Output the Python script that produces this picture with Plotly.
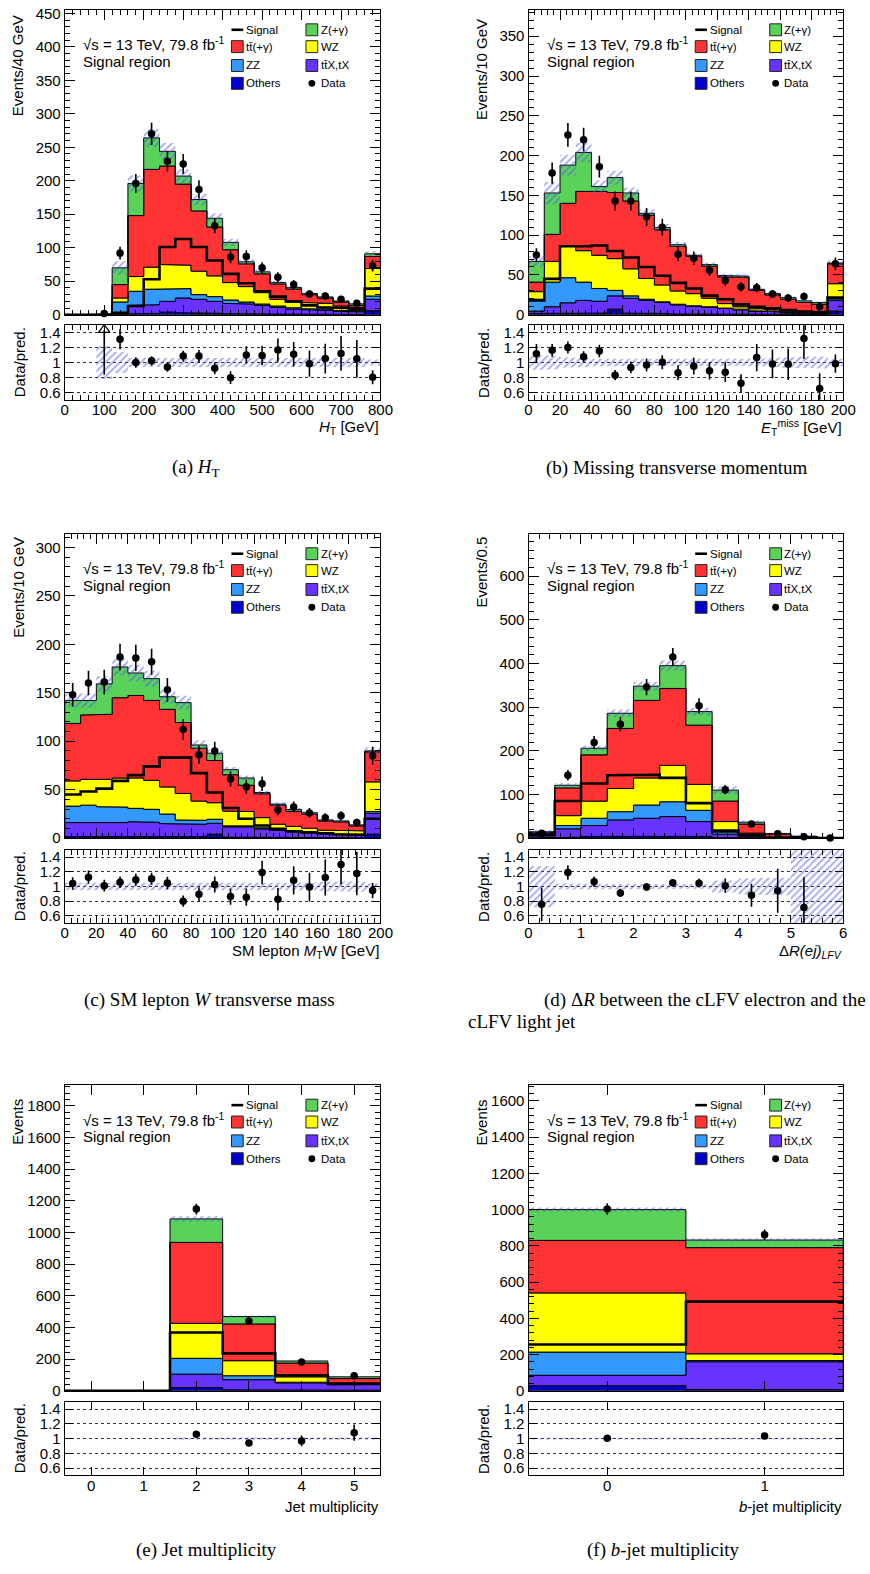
import numpy as np
import plotly.graph_objects as go

W, H = 870, 1574
SANS = "Liberation Sans, Arial, sans-serif"
SERIF = "Liberation Serif, Times New Roman, serif"
nan = float("nan")

# Stack colours, bottom -> top
C_OTHERS = "#0000cc"
C_TTX = "#6633ff"
C_ZZ = "#3399ff"
C_WZ = "#ffff00"
C_TT = "#ff3333"
C_Z = "#5ad25a"
C_HATCH = "#5050f0"
STACK_COLORS = [C_OTHERS, C_TTX, C_ZZ, C_WZ, C_TT, C_Z]

# ---------------- (a) H_T, 40 GeV bins (last bin includes overflow)
ht_edges = np.arange(0, 801, 40)
ht_others = [0, 0, 0, 1, 2, 2, 4, 3, 2, 2, 1.5, 1, 1, 1, 0.8, 0.6, 0.5, 0.5, 0.4, 6]
ht_ttx = [0, 0, 0.1, 2, 12, 13, 16, 22, 21, 18, 15.5, 15, 13, 10, 7.6, 6.9, 5.9, 4.5, 4.0, 17]
ht_zz = [0, 0, 0.2, 16, 21, 23, 18, 14, 7, 7, 5, 3, 2, 2, 2, 1.5, 2, 1.4, 1.5, 5]
ht_wz = [0, 0, 0.1, 6, 22, 33, 37, 35, 35, 31, 26, 23, 17, 10, 8.6, 9, 8.6, 6.6, 5.1, 41]
ht_tt = [0, 0, 0.2, 20, 91, 146, 147, 121, 90, 73, 49, 34, 28, 23, 19.5, 12, 8, 6, 3, 18]
ht_z = [0, 0, 0.1, 25, 48, 47, 22, 12, 17, 13, 11, 3, 3, 2, 2, 1.5, 1.6, 1.5, 2.2, 4]
ht_signal = [0, 0, 0.3, 3, 13, 53, 101, 113, 101, 81, 61, 47, 35, 27, 20, 14, 11, 10, 8.4, 39]
ht_data = [nan, nan, 2, 92, 196, 270, 229, 225, 187, 133, 86, 87, 70, 56, 45, 31, 28, 23, 17, 73]
ht_unc = [0, 0, 0.22, 0.14, 0.06, 0.05, 0.05, 0.05, 0.05, 0.05, 0.05, 0.05, 0.05, 0.05, 0.05,
          0.05, 0.05, 0.06, 0.06, 0.04]

# ---------------- (b) missing transverse momentum, 10 GeV bins
met_edges = np.arange(0, 201, 10)
met_others = [1.5, 1.5, 2, 2, 2, 7, 2, 1.5, 1.5, 1, 1, 1, 0.8, 0.6, 0.5, 0.4, 0.3, 0.3, 0.3, 4.5]
met_ttx = [3, 8.5, 13, 16, 15, 16.7, 18.7, 16.7, 13.9, 11.4, 9.8, 8.5, 7.1, 5.6, 4.1, 3.3, 2.2, 1.7, 1.3, 13.5]
met_zz = [15, 31, 31.5, 23, 16, 6.9, 3, 1.3, 0.8, 0.8, 0.4, 0.5, 0.4, 0.8, 0.4, 0.4, 0.4, 0.5, 0.4, 2]
met_wz = [9.5, 26, 39.5, 39.5, 41.7, 39.9, 34, 26.1, 21.2, 16.7, 15.3, 10.7, 5.7, 3, 2.5, 2.1, 1.7, 1.5, 1.7, 19]
met_tt = [12, 34, 54, 74.5, 80.3, 83.1, 85.3, 79.4, 69.3, 56.1, 46.9, 40.3, 33.7, 37, 23.1, 18.8, 14.9, 11.4, 9.5, 25]
met_z = [26, 52, 48, 49, 6, 18.7, 10, 2.4, 2.9, 2, 1.3, 2, 1.7, 1.5, 1.3, 1.5, 2, 2, 2.2, 1]
met_signal = [18, 45, 86, 86, 87, 80, 72, 60, 49, 40, 33, 24, 19.5, 13, 10, 8, 6, 4, 3, 21.5]
met_data = [75, 178, 226, 220, 186, 143, 143, 123, 110, 76, 71, 56, 43, 35, 34, 26, 21, 23, 10, 64]
met_unc = [0.1, 0.09, 0.07, 0.06, 0.05, 0.05, 0.045, 0.04, 0.04, 0.04, 0.04, 0.04, 0.04, 0.045,
           0.05, 0.06, 0.07, 0.08, 0.08, 0.05]

# ---------------- (c) SM lepton M_T(W), 10 GeV bins
mtw_edges = np.arange(0, 201, 10)
mtw_others = [1.5, 1.5, 1.5, 1.5, 1.5, 1.5, 1.5, 1.5, 1.5, 4, 1, 1, 1, 0.8, 0.6, 0.5, 0.4, 0.4, 0.3, 4]
mtw_ttx = [14.5, 14.8, 14.5, 14.5, 15.5, 14.8, 13.5, 12.8, 12.8, 11.3, 10.6, 10.6, 8.5, 7, 5.9, 4.9, 4, 3.3, 2.7, 21.5]
mtw_zz = [17, 17.7, 16.4, 16, 13.7, 13.4, 9.8, 4.4, 4.1, 4.1, 1, 1, 1.1, 0.4, 0.3, 0.4, 0.4, 0.4, 0.4, 1.8]
mtw_wz = [26, 26.6, 28.2, 30, 31.3, 29.9, 28, 27.3, 19.8, 17.1, 15.3, 14.7, 10.5, 6.1, 5.2, 4.4, 3.4, 3.4, 4.1, 30.7]
mtw_tt = [59.3, 66.5, 67.2, 82.9, 85.2, 82.5, 80.1, 73.3, 54.5, 43.6, 37.5, 27.2, 24.6, 19.7, 15.6, 14.6, 9.5, 9.2, 5.1, 31]
mtw_z = [23.8, 14.9, 31.4, 31.7, 23.2, 22.5, 13, 20.5, 3.4, 7.5, 5.2, 7.5, 1.3, 1.1, 1.9, 1.4, 1, 1, 1, 1]
mtw_signal = [45, 48, 51, 59, 65, 74, 83, 83, 67, 47, 31, 20, 13, 9.5, 7, 6, 5, 4, 3.4, 20]
mtw_data = [148, 160, 161, 187, 186, 182, 153, 112, 86, 90, 61, 53, 56, 29, 32, 26, 21, 23, 16, 85]
mtw_unc = [0.05, 0.05, 0.05, 0.05, 0.05, 0.05, 0.05, 0.05, 0.05, 0.04, 0.04, 0.04, 0.045, 0.05,
           0.05, 0.05, 0.06, 0.07, 0.07, 0.04]

# ---------------- (d) DeltaR(e, j) of the cLFV pair, 0.5 bins
dr_edges = np.arange(0, 6.01, 0.5)
dr_others = [0.5, 2, 3.8, 3.8, 4, 4.5, 3.8, 1, 0.3, 0.1, 0, 0]
dr_ttx = [4.5, 19.2, 24.9, 37.8, 41.4, 44.7, 34, 8, 4.2, 0.9, 0.4, 0.1]
dr_zz = [2, 7.5, 16.7, 18.9, 30.3, 34, 25.8, 4.6, 1.5, 0.5, 0.2, 0.1]
dr_wz = [2, 22.7, 39.3, 53, 62, 83.3, 59.4, 24.2, 5.3, 0.5, 0.2, 0.1]
dr_tt = [3.5, 63.6, 106, 137.7, 177.8, 176.3, 135.8, 47, 20.7, 7, 2.8, 0.7]
dr_z = [2, 6, 15.1, 34.8, 32.5, 52.2, 31, 24.9, 4.3, 1.6, 0.6, 0.2]
dr_signal = [8, 85, 125, 144, 145, 138, 80, 17, 7.6, 2, 0.8, 0.2]
dr_data = [11, 144, 219, 261, 346, 415, 303, 111, 32, 10, 3, 0]
dr_unc = [0.28, 0.04, 0.03, 0.03, 0.03, 0.03, 0.03, 0.08, 0.11, 0.12, 0.6, 0.6]

# ---------------- (e) jet multiplicity
njet_cats = [0, 1, 2, 3, 4, 5]
njet_others = [0, 0, 20, 6, 3, 3]
njet_ttx = [0, 0, 85, 64, 47, 35]
njet_zz = [0, 0, 100, 25, 4, 2]
njet_wz = [0, 0, 221, 95, 34, 7]
njet_tt = [0, 0, 511.5, 232, 87, 30]
njet_z = [0, 0, 148.5, 47, 13, 11]
njet_signal = [0, 0, 368, 236, 98, 45]
njet_data = [nan, nan, 1148, 441, 182, 95]
njet_unc = [0, 0, 0.015, 0.015, 0.015, 0.015]

# ---------------- (f) b-jet multiplicity
nb_cats = [0, 1]
nb_others = [27.4, 6]
nb_ttx = [58.1, 154]
nb_zz = [128, 7]
nb_wz = [326.5, 37]
nb_tt = [290, 586]
nb_z = [170, 42]
nb_signal = [255, 492]
nb_data = [1003, 861]
nb_unc = [0.012, 0.012]


def cat_edges(cats):
    c = np.asarray(cats, float)
    return np.append(c - 0.5, c[-1] + 0.5)


COLS = [(62, 384), (535, 856)]
ROWS = [(5, 312.3, 323, 398), (533.3, 840, 851.7, 926), (1089.3, 1397.3, 1408.3, 1482.7)]
XTITLE_Y = [426, 954, 1514]

panels = [
    dict(edges=ht_edges, stack=[ht_others, ht_ttx, ht_zz, ht_wz, ht_tt, ht_z], signal=ht_signal,
         data=ht_data, unc=ht_unc, xr=[0, 800], yr=[0, 455], xdt=100, xminor=20, ydt=50, yminor=10,
         xticks=None, ytitle="Events/40 GeV", ytop=8, xtitle="<i>H</i><sub>T</sub> [GeV]", col=0, row=0),
    dict(edges=met_edges, stack=[met_others, met_ttx, met_zz, met_wz, met_tt, met_z], signal=met_signal,
         data=met_data, unc=met_unc, xr=[0, 200], yr=[0, 383], xdt=20, xminor=4, ydt=50, yminor=10,
         xticks=None, ytitle="Events/10 GeV", ytop=12,
         xtitle="<i>E</i><sub>T</sub><sup>miss</sup> [GeV]", col=1, row=0),
    dict(edges=mtw_edges, stack=[mtw_others, mtw_ttx, mtw_zz, mtw_wz, mtw_tt, mtw_z], signal=mtw_signal,
         data=mtw_data, unc=mtw_unc, xr=[0, 200], yr=[0, 314], xdt=20, xminor=4, ydt=50, yminor=10,
         xticks=None, ytitle="Events/10 GeV", ytop=534,
         xtitle="SM lepton <i>M</i><sub>T</sub>W [GeV]", col=0, row=1),
    dict(edges=dr_edges, stack=[dr_others, dr_ttx, dr_zz, dr_wz, dr_tt, dr_z], signal=dr_signal,
         data=dr_data, unc=dr_unc, xr=[0, 6], yr=[0, 697], xdt=1, xminor=0.2, ydt=100, yminor=20,
         xticks=None, ytitle="Events/0.5", ytop=534,
         xtitle="Δ<i>R(ej)</i><sub><i>LFV</i></sub>", col=1, row=1),
    dict(edges=cat_edges(njet_cats), stack=[njet_others, njet_ttx, njet_zz, njet_wz, njet_tt, njet_z],
         signal=njet_signal, data=njet_data, unc=njet_unc, xr=[-0.5, 5.5], yr=[0, 1930], xdt=1,
         xminor=None, ydt=200, yminor=40, xticks=njet_cats, ytitle="Events", ytop=1101,
         xtitle="Jet multiplicity", col=0, row=2),
    dict(edges=cat_edges(nb_cats), stack=[nb_others, nb_ttx, nb_zz, nb_wz, nb_tt, nb_z],
         signal=nb_signal, data=nb_data, unc=nb_unc, xr=[-0.5, 1.5], yr=[0, 1686], xdt=1,
         xminor=None, ydt=200, yminor=40, xticks=nb_cats, ytitle="Events", ytop=1101,
         xtitle="<i>b</i>-jet multiplicity", col=1, row=2),
]

captions = [
    dict(text="(a) <i>H</i><sub>T</sub>", x=196, y=467, anchor="center"),
    dict(text="(b) Missing transverse momentum", x=686, y=467, anchor="center"),
    dict(text="(c) SM lepton <i>W</i> transverse mass", x=210, y=1003, anchor="center"),
    dict(text="(d) Δ<i>R</i> between the cLFV electron and the", x=549, y=1003, anchor="left"),
    dict(text="cLFV light jet", x=471, y=1025, anchor="left"),
    dict(text="(e) Jet multiplicity", x=207, y=1558, anchor="center"),
    dict(text="(f) <i>b</i>-jet multiplicity", x=672, y=1558, anchor="center"),
]


def px(x):
    return x / W


def py(y):
    return 1 - y / H


def ax_name(i, letter):
    return letter if i == 1 else f"{letter}{i}"


def ax_key(i, letter):
    return f"{letter}axis" if i == 1 else f"{letter}axis{i}"


def step_xy(edges, vals):
    xs, ys = [], []
    for i, v in enumerate(vals):
        xs += [float(edges[i]), float(edges[i + 1])]
        ys += [float(v), float(v)]
    return xs, ys


def band_polygon(edges, lo, hi):
    xu, yu = step_xy(edges, hi)
    xl, yl = step_xy(edges, lo)
    return xu + xl[::-1] + [xu[0]], yu + yl[::-1] + [yu[0]]


HATCH = dict(shape="/", fgcolor=C_HATCH, bgcolor="rgba(0,0,0,0)", size=5, solidity=0.35)
TICKFONT = dict(family=SANS, size=15, color="black")

fig = go.Figure()
layout = dict(width=W, height=H, margin=dict(l=0, r=0, t=0, b=0), paper_bgcolor="white",
              plot_bgcolor="white", showlegend=False)
shapes, annotations = [], []

for k, p in enumerate(panels):
    m, r = 2 * k + 1, 2 * k + 2
    L, R = COLS[p["col"]]
    T, B, RT, RB = ROWS[p["row"]]
    edges = np.asarray(p["edges"], float)
    centers = 0.5 * (edges[:-1] + edges[1:])
    xm, ym, xq, yq = ax_name(m, "x"), ax_name(m, "y"), ax_name(r, "x"), ax_name(r, "y")

    # stacked backgrounds
    cum = np.cumsum(np.array([np.asarray(s, float) for s in p["stack"]]), axis=0)
    lower = np.zeros(len(centers))
    for top, color in zip(cum, STACK_COLORS):
        xs, ys = band_polygon(edges, lower, top)
        fig.add_trace(go.Scatter(x=xs, y=ys, xaxis=xm, yaxis=ym, mode="lines", fill="toself",
                                 fillcolor=color, line=dict(color="black", width=1), hoverinfo="skip"))
        lower = top
    total = cum[-1]
    unc = np.asarray(p["unc"], float)

    # uncertainty band on the total
    xs, ys = band_polygon(edges, total * (1 - unc), total * (1 + unc))
    fig.add_trace(go.Scatter(x=xs, y=ys, xaxis=xm, yaxis=ym, mode="lines", fill="toself",
                             fillcolor="rgba(0,0,0,0)", fillpattern=HATCH, line=dict(width=0),
                             hoverinfo="skip"))

    # signal overlay
    xs, ys = step_xy(edges, p["signal"])
    fig.add_trace(go.Scatter(x=xs, y=ys, xaxis=xm, yaxis=ym, mode="lines",
                             line=dict(color="black", width=2.6), hoverinfo="skip"))

    # data
    data = np.asarray(p["data"], float)
    ok = np.isfinite(data)
    fig.add_trace(go.Scatter(x=centers[ok], y=data[ok], xaxis=xm, yaxis=ym, mode="markers",
                             marker=dict(color="black", size=7.5),
                             error_y=dict(type="data", array=np.sqrt(data[ok]), color="black",
                                          thickness=1.6, width=0),
                             cliponaxis=False, hoverinfo="skip"))

    # ratio panel: band
    has = np.where(total > 0)[0]
    i0, i1 = has[0], has[-1]
    xs, ys = band_polygon(edges[i0:i1 + 2], 1 - unc[i0:i1 + 1], 1 + unc[i0:i1 + 1])
    fig.add_trace(go.Scatter(x=xs, y=ys, xaxis=xq, yaxis=yq, mode="lines", fill="toself",
                             fillcolor="rgba(0,0,0,0)", fillpattern=HATCH, line=dict(width=0),
                             hoverinfo="skip"))

    # ratio panel: data / prediction
    with np.errstate(divide="ignore", invalid="ignore"):
        ratio = np.where(total > 0, data / total, nan)
        rerr = np.where(total > 0, np.sqrt(data) / total, nan)
    good = np.isfinite(ratio) & (data > 0) & (ratio <= 1.5)
    fig.add_trace(go.Scatter(x=centers[good], y=ratio[good], xaxis=xq, yaxis=yq, mode="markers",
                             marker=dict(color="black", size=7.5),
                             error_y=dict(type="data", array=rerr[good], color="black",
                                          thickness=1.6, width=0),
                             hoverinfo="skip"))
    high = np.isfinite(ratio) & (ratio > 1.5)
    for c, rv, re in zip(centers[high], ratio[high], rerr[high]):
        fig.add_trace(go.Scatter(x=[c, c], y=[max(rv - re, 0.5), 1.44], xaxis=xq, yaxis=yq,
                                 mode="lines", line=dict(color="black", width=1.6), hoverinfo="skip"))
        fig.add_trace(go.Scatter(x=[c], y=[1.44], xaxis=xq, yaxis=yq, mode="markers",
                                 marker=dict(symbol="triangle-up-open", size=10, color="black",
                                             line=dict(width=1.2)),
                                 cliponaxis=False, hoverinfo="skip"))

    # axes
    frame = dict(showline=True, linecolor="black", linewidth=1.2, mirror="allticks", ticks="inside",
                 tickcolor="black", tickwidth=1, showgrid=False, zeroline=False, fixedrange=True)
    if p["xticks"] is not None:
        xt = dict(tickmode="array", tickvals=p["xticks"])
    else:
        xt = dict(tickmode="linear", tick0=p["xr"][0], dtick=p["xdt"])
    xminor = dict(ticks="inside", ticklen=5, tickcolor="black", dtick=p["xminor"], tick0=0) \
        if p["xminor"] else dict(ticks="")
    layout[ax_key(m, "x")] = dict(domain=[px(L), px(R)], range=p["xr"], anchor=ym,
                                  showticklabels=False, ticklen=10, minor=xminor, **xt, **frame)
    layout[ax_key(m, "y")] = dict(domain=[py(B), py(T)], range=p["yr"], anchor=xm, tickmode="linear",
                                  tick0=0, dtick=p["ydt"], ticklen=10, tickfont=TICKFONT,
                                  minor=dict(ticks="inside", ticklen=5, tickcolor="black",
                                             dtick=p["yminor"], tick0=0), **frame)
    layout[ax_key(r, "x")] = dict(domain=[px(L), px(R)], range=p["xr"], anchor=yq,
                                  showticklabels=True, tickfont=TICKFONT, ticklen=8, minor=xminor,
                                  ticklabelstandoff=-4, **xt, **frame)
    rframe = dict(frame)
    rframe["showgrid"] = True
    layout[ax_key(r, "y")] = dict(domain=[py(RB), py(RT)], range=[0.5, 1.5], anchor=xq,
                                  tickmode="array", tickvals=[0.6, 0.8, 1.0, 1.2, 1.4],
                                  ticktext=["0.6", "0.8", "1", "1.2", "1.4"], ticklen=8,
                                  tickfont=TICKFONT, gridcolor="#333333", griddash="dot", gridwidth=1,
                                  **rframe)

    # axis titles
    annotations.append(dict(text=p["ytitle"], x=px(L - 48), y=py(p["ytop"]), xref="paper", yref="paper",
                            xanchor="center", yanchor="top", textangle=-90, showarrow=False,
                            font=dict(family=SANS, size=15, color="black")))
    annotations.append(dict(text="Data/pred.", x=px(L - 46), y=py((RT + RB) / 2), xref="paper",
                            yref="paper", xanchor="center", yanchor="middle", textangle=-90,
                            showarrow=False, font=dict(family=SANS, size=15, color="black")))
    annotations.append(dict(text=p["xtitle"], x=px(R + 1), y=py(XTITLE_Y[p["row"]]), xref="paper",
                            yref="paper", xanchor="right", yanchor="middle", showarrow=False,
                            font=dict(family=SANS, size=15, color="black")))

    # in-plot labels
    annotations.append(dict(text="√s = 13 TeV, 79.8 fb<sup>-1</sup>", x=px(L + 17), y=py(T + 34),
                            xref="paper", yref="paper", xanchor="left", yanchor="middle",
                            showarrow=False, font=dict(family=SANS, size=15, color="black")))
    annotations.append(dict(text="Signal region", x=px(L + 17), y=py(T + 52), xref="paper",
                            yref="paper", xanchor="left", yanchor="middle", showarrow=False,
                            font=dict(family=SANS, size=15, color="black")))

    # legend
    row_off = [20, 37, 56, 74]
    left_items = [("Signal", None), ("tt\u0304(+γ)", C_TT), ("ZZ", C_ZZ), ("Others", C_OTHERS)]
    right_items = [("Z(+γ)", C_Z), ("WZ", C_WZ), ("tt\u0304X,tX", C_TTX), ("Data", None)]
    for j, (label, color) in enumerate(left_items):
        yc = T + row_off[j]
        if color is None:
            shapes.append(dict(type="line", xref="paper", yref="paper", x0=px(L + 170), x1=px(L + 182),
                               y0=py(yc), y1=py(yc), line=dict(color="black", width=2.6)))
        else:
            shapes.append(dict(type="rect", xref="paper", yref="paper", x0=px(L + 170), x1=px(L + 182),
                               y0=py(yc + 6), y1=py(yc - 6), fillcolor=color,
                               line=dict(color="#222222", width=1)))
        annotations.append(dict(text=label, x=px(L + 183), y=py(yc), xref="paper", yref="paper",
                                xanchor="left", yanchor="middle", showarrow=False,
                                font=dict(family=SANS, size=11.5, color="black")))
    for j, (label, color) in enumerate(right_items):
        yc = T + row_off[j]
        if color is None:
            shapes.append(dict(type="circle", xref="paper", yref="paper", x0=px(L + 248.5),
                               x1=px(L + 255.5), y0=py(yc + 3.5), y1=py(yc - 3.5),
                               fillcolor="black", line=dict(color="black", width=0)))
        else:
            shapes.append(dict(type="rect", xref="paper", yref="paper", x0=px(L + 246), x1=px(L + 258),
                               y0=py(yc + 6), y1=py(yc - 6), fillcolor=color,
                               line=dict(color="#222222", width=1)))
        annotations.append(dict(text=label, x=px(L + 259), y=py(yc), xref="paper", yref="paper",
                                xanchor="left", yanchor="middle", showarrow=False,
                                font=dict(family=SANS, size=11.5, color="black")))

for c in captions:
    annotations.append(dict(text=c["text"], x=px(c["x"]), y=py(c["y"]), xref="paper", yref="paper",
                            xanchor=c["anchor"], yanchor="middle", showarrow=False,
                            font=dict(family=SERIF, size=19, color="black")))

layout["shapes"] = shapes
layout["annotations"] = annotations
fig.update_layout(**layout)
fig.write_html("out.html")
